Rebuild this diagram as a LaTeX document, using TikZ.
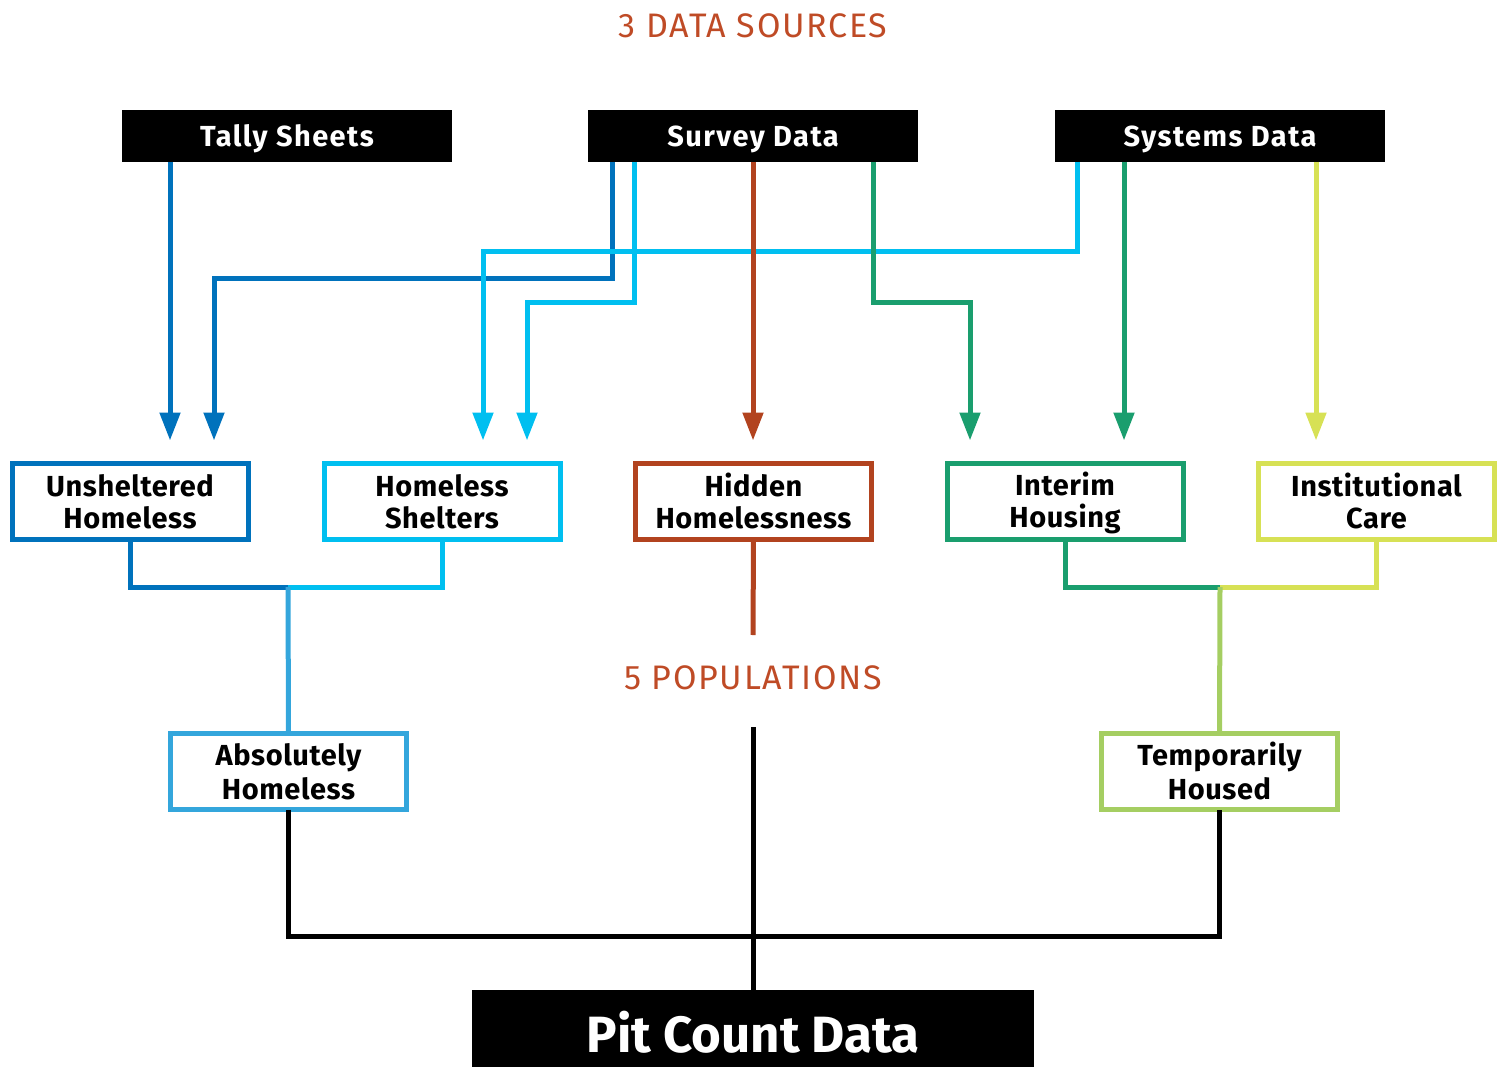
\documentclass[tikz,border=0pt]{standalone}
\usepackage{fontspec}
\setmainfont{Fira Sans}
\usetikzlibrary{arrows.meta}
\definecolor{dblue}{HTML}{0072BC}
\definecolor{lblue}{HTML}{00BFF0}
\definecolor{mblue}{HTML}{34A6DC}
\definecolor{rust}{HTML}{B2431F}
\definecolor{titlec}{HTML}{BF4B26}
\definecolor{dgreen}{HTML}{1A9E6E}
\definecolor{yell}{HTML}{D7E155}
\definecolor{lgreen}{HTML}{A5CE62}
\newcommand\lnstrut{\rule[-4pt]{0pt}{30pt}}
\tikzset{
  srcbox/.style={fill=black, text=white, minimum width=330pt, minimum height=52pt, inner sep=0pt, outer sep=0pt, text height=30pt, text depth=8pt, font=\fontsize{29}{32}\selectfont\bfseries\addfontfeatures{LetterSpace=5}},
  popbox/.style={draw=#1, fill=white, line width=5pt, minimum width=236pt, minimum height=76pt, inner sep=0pt, outer sep=0pt, align=center, font=\fontsize{29}{32}\selectfont\bfseries\addfontfeatures{LetterSpace=2}},
  conn/.style={draw=#1, line width=5pt, line join=miter},
  arr/.style={conn=#1, -{Triangle[width=20pt,length=28pt]}, shorten >=23pt},
  heading/.style={text=titlec, font=\fontsize{34}{36}\selectfont\addfontfeatures{LetterSpace=5}, inner sep=0pt}
}
\begin{document}
\begin{tikzpicture}[x=1pt,y=-1pt]
\useasboundingbox (0,0) rectangle (1506,1067);
% headings
\node[heading] (srcs) at (753,26) {3 DATA SOURCES};
\node[heading] (pops) at (753,678) {5 POPULATIONS};
% source boxes
\node[srcbox] (tally) at (287,136) {Tally Sheets};
\node[srcbox] (survey) at (753,136) {Survey Data};
\node[srcbox] (systems) at (1220,136) {Systems Data};
% population boxes
\node[popbox=dblue] (un) at (130,501.5) {\lnstrut Unsheltered\\\lnstrut Homeless};
\node[popbox=lblue] (hs) at (442,501.5) {\lnstrut Homeless\\\lnstrut Shelters};
\node[popbox=rust] (hid) at (753.5,501.5) {\lnstrut Hidden\\\lnstrut Homelessness};
\node[popbox=dgreen] (ih) at (1065,501.5) {\lnstrut Interim\\\lnstrut Housing};
\node[popbox=yell] (ic) at (1376.5,501.5) {\lnstrut Institutional\\\lnstrut Care};
\node[popbox=mblue] (ah) at (288.5,771.5) {\lnstrut Absolutely\\\lnstrut Homeless};
\node[popbox=lgreen] (th) at (1219.5,771.5) {\lnstrut Temporarily\\\lnstrut Housed};
% pit count
\node[fill=black, text=white, minimum width=562pt, minimum height=77pt, inner sep=0pt, outer sep=0pt, text height=52pt, text depth=5pt, font=\fontsize{51}{56}\selectfont\bfseries] (pit) at (753,1028.5) {Pit Count Data};
% junctions
\coordinate (jl) at (288,587);
\coordinate (jr) at (1220,587);
\coordinate (jb) at (753,936);
% arrows from sources
\draw[arr=dblue] ([xshift=-117pt]tally.south) -- ([xshift=40pt]un.north);
\draw[arr=dblue] ([xshift=-141pt]survey.south) -- ++(0,116) -| ([xshift=84pt]un.north);
\draw[arr=lblue] ([xshift=-143pt]systems.south) -- ++(0,90) -| ([xshift=41pt]hs.north);
\draw[arr=lblue] ([xshift=-119pt]survey.south) -- ++(0,140) -| ([xshift=85pt]hs.north);
\draw[arr=rust] (survey.south) -- (survey.south |- hid.north);
\draw[arr=dgreen] ([xshift=120pt]survey.south) -- ++(0,140) -| ([xshift=-95pt]ih.north);
\draw[arr=dgreen] ([xshift=-96pt]systems.south) -- ([xshift=-96pt]systems.south |- ih.north);
\draw[arr=yell] ([xshift=96pt]systems.south) -- ([xshift=96pt]systems.south |- ic.north);
% merging
\draw[conn=dblue] (un.south) |- (jl);
\draw[conn=lblue] (hs.south) |- (jl);
\draw[conn=mblue] (jl) -- (ah.north);
\draw[conn=dgreen] (ih.south) |- (jr);
\draw[conn=yell] (ic.south) |- (jr);
\draw[conn=lgreen] (jr) -- (th.north);
\draw[conn=rust] (hid.south) -- ([yshift=43pt]pops.center);
\draw[conn=black] ([yshift=-49pt]pops.center) -- (pit.north);
\draw[conn=black] (ah.south) -- (ah.south |- jb) -| (th.south);
\end{tikzpicture}
\end{document}
